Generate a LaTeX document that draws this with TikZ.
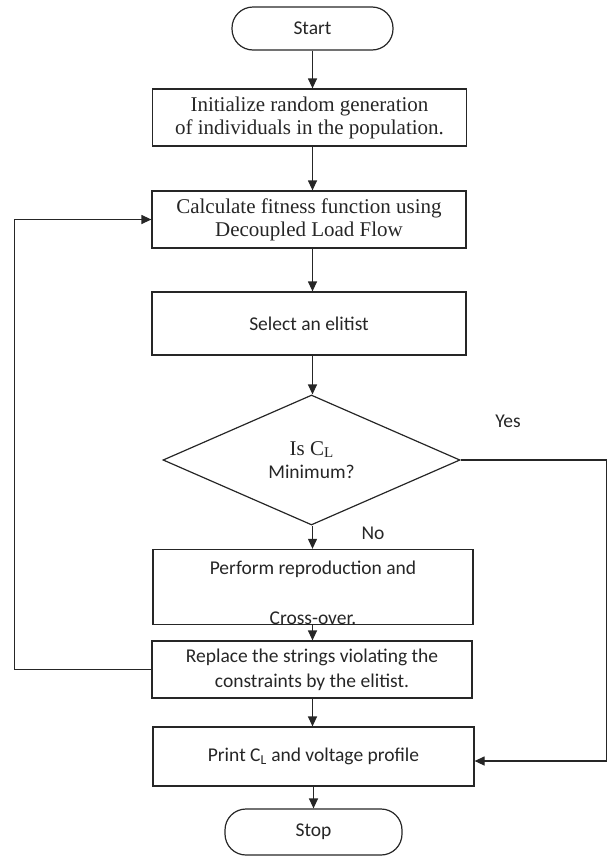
\documentclass[tikz,border=0pt]{standalone}
\usepackage{fontspec}
\setmainfont{Liberation Serif}
\newfontfamily\calibri{Carlito}
\usetikzlibrary{shapes.geometric,arrows.meta}
\begin{document}
\begin{tikzpicture}[x=1pt,y=-1pt,line width=1.2pt,color=black!85]
        \tikzstyle{term}=[draw, rounded corners=21pt, minimum width=161pt, minimum height=43pt, font=\calibri\fontsize{19.5}{24}\selectfont]
        \tikzstyle{box}=[draw, minimum width=314pt, minimum height=57pt, inner sep=0pt, align=center, font=\fontsize{21}{23}\selectfont]
        \tikzstyle{sbox}=[box, font=\calibri\fontsize{19.5}{25}\selectfont]
        \tikzstyle{lbl}=[font=\calibri\fontsize{19.5}{24}\selectfont]
        \tikzstyle{arr}=[-{Triangle[length=10pt,width=9pt]}]
        \useasboundingbox (0,0) rectangle (608,857);
        \node[term] (start) at (312.5,28.5) {Start};
        \node[box] (init) at (309.5,117.5) {Initialize random generation\\of individuals in the population.};
        \node[box] (calc) at (309,219.5) {Calculate fitness function using\\Decoupled Load Flow};
        \node[sbox, minimum height=63pt] (sel) at (309,323.5) {Select an elitist};
        \node[diamond, draw, minimum width=297pt, minimum height=130pt, inner sep=0pt, align=center] (dec) at (311.5,460)
          {\fontsize{21}{24}\selectfont Is C\raisebox{-2pt}{\fontsize{15}{15}\selectfont L}\\[6pt]
           \calibri\fontsize{19.5}{24}\selectfont Minimum?};
        \node[sbox, minimum width=320pt, minimum height=68pt] (perf) at (313,587) {\rule{0pt}{25pt}Perform reproduction and\\[25pt]Cross-over.};
        \node[sbox, minimum width=320pt] (repl) at (312,669.5) {Replace the strings violating the\\constraints by the elitist.};
        \node[sbox, minimum width=321pt, minimum height=59pt] (print) at (313.5,756.5) {Print C\textsubscript{L} and voltage profile};
        \node[term, minimum width=177pt, minimum height=46pt] (stop) at (313.5,832) {Stop};
        \node[lbl] (yes) at (508,421) {Yes};
        \node[lbl] (no) at (373,533) {No};
        \draw[arr] (start.south) -- (start.south |- init.north);
        \draw[arr] (init.south -| start) -- (calc.north -| start);
        \draw[arr] (calc.south -| start) -- (sel.north -| start);
        \draw[arr] (sel.south -| start) -- (dec.north -| start);
        \draw[arr] (dec.south -| start) -- (perf.north -| start);
        \draw[arr] (perf.south -| start) -- (repl.north -| start);
        \draw[arr] (repl.south -| start) -- (print.north -| start);
        \draw[arr] (print.south -| stop) -- (stop.north);
        \draw[arr] (dec.east) -- ++(146,0) |- ([yshift=-4.5pt]print.east);
        \draw[arr] (repl.west) -- ++(-137,0) |- (calc.west);
\end{tikzpicture}
\end{document}
